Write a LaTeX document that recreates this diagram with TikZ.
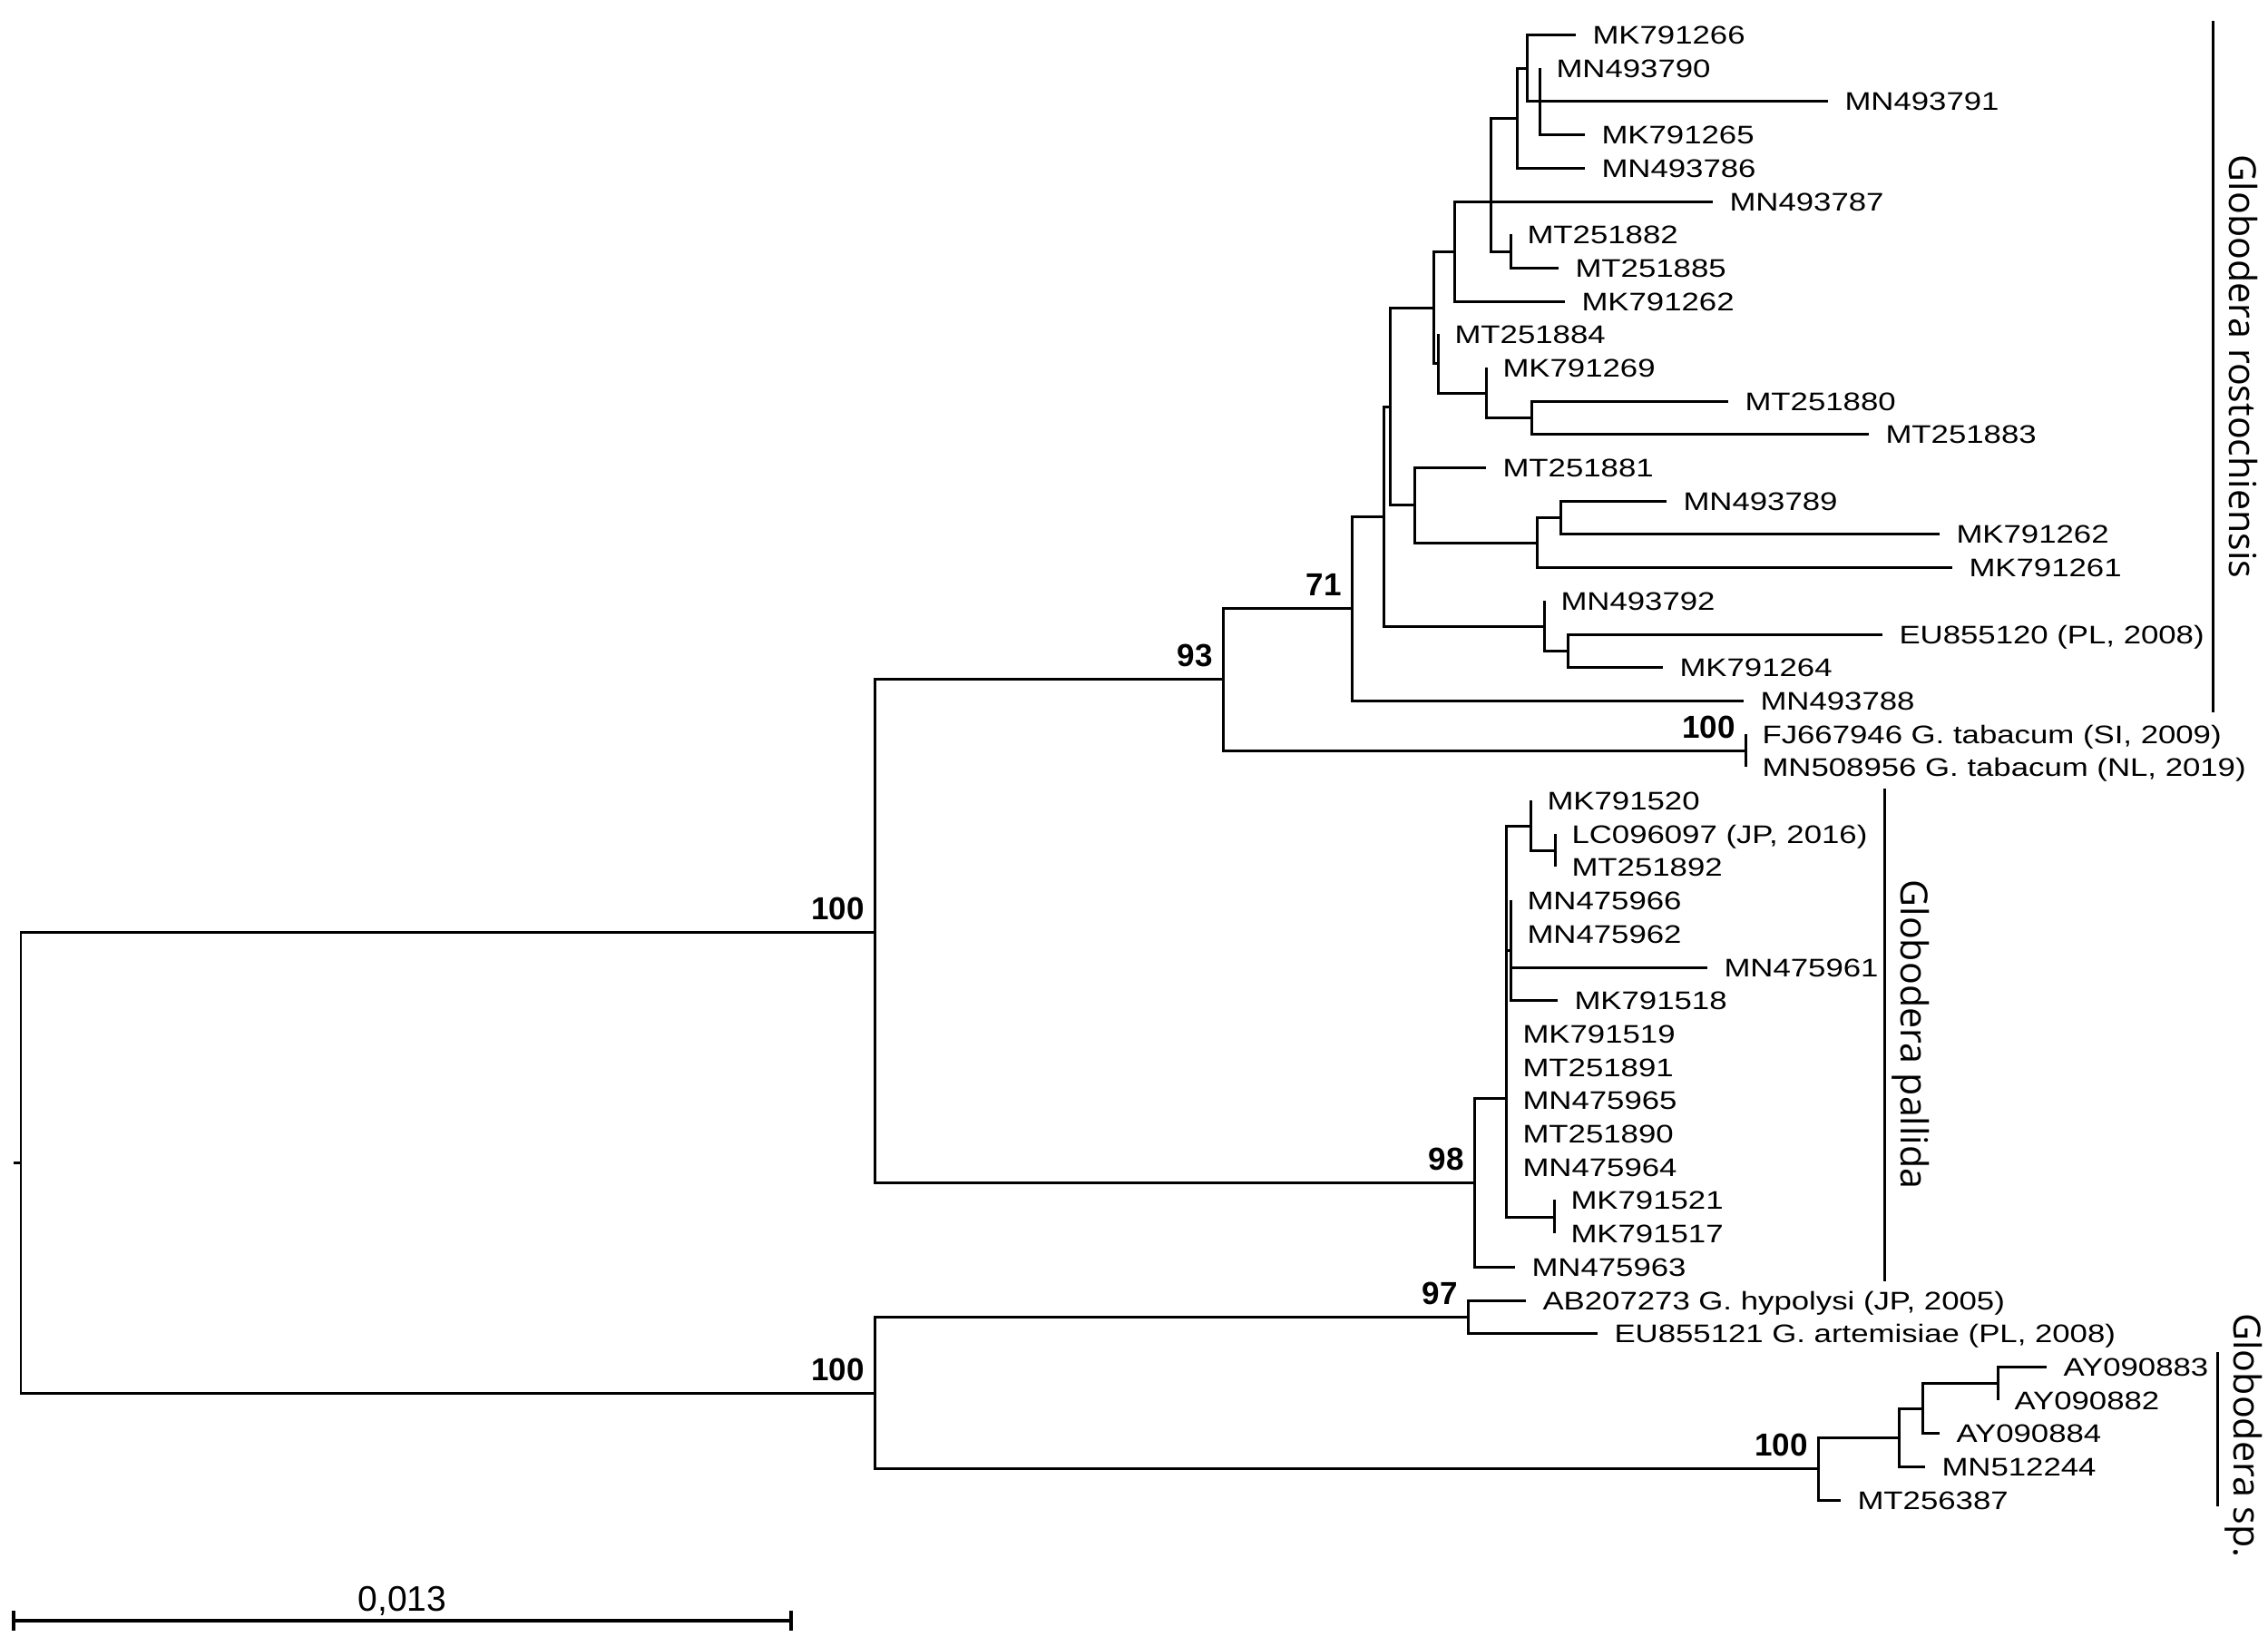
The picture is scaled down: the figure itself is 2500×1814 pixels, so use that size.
\documentclass[tikz,border=0pt]{standalone}
\usepackage{fontspec}
\setmainfont{Liberation Sans}
\newfontfamily\leaffont[FakeStretch=1.24]{Liberation Sans}
\newfontfamily\cladefont{Open Sans}
\usetikzlibrary{arrows.meta}

\begin{document}
\begin{tikzpicture}[x=0.01cm, y=-0.01cm, line width=0.85pt,
  leaf/.style={anchor=west, inner sep=0pt, inner xsep=0.17cm, text height=5.7pt, text depth=0pt,
    font=\leaffont\fontsize{7.97pt}{9pt}\selectfont},
  boot/.style={anchor=south east, inner sep=0pt, xshift=-0.1cm, yshift=0.12cm,
    font=\bfseries\fontsize{9.96pt}{12pt}\selectfont},
  clade/.style={rotate=-90, anchor=base, inner sep=0pt,
    font=\cladefont\fontsize{11.7pt}{14pt}\selectfont},
  scalelab/.style={midway, anchor=south, inner sep=0pt, yshift=0.09cm, text depth=0pt,
    font=\fontsize{11.1pt}{13pt}\selectfont}]
\useasboundingbox (0,0) rectangle (2500,1814);

\coordinate (stem) at (15,1281);
\coordinate (n0) at (23,1281);
\coordinate (nA) at (964,1027);
\coordinate (nB) at (1348,748);
\coordinate (nC) at (1490,670);
\coordinate (nQ) at (1525,569);
\coordinate (nK) at (1532,448);
\coordinate (nL) at (1580,339);
\coordinate (nJ) at (1603,277);
\coordinate (nH) at (1643,222);
\coordinate (nE) at (1672,130);
\coordinate (nF) at (1683,75);
\coordinate (nG) at (1697,111);
\coordinate (nI) at (1665,277);
\coordinate (nM) at (1585,400);
\coordinate (nN) at (1638,433);
\coordinate (nO) at (1688,460);
\coordinate (nP) at (1559,556);
\coordinate (nS) at (1694,598);
\coordinate (nT) at (1720,570);
\coordinate (nR) at (1702,690);
\coordinate (nU) at (1728,717);
\coordinate (nV) at (1924,827);
\coordinate (nW) at (1625,1303);
\coordinate (nX) at (1660,1210);
\coordinate (nY) at (1687,910);
\coordinate (nAB) at (1714,937);
\coordinate (nZ) at (1665,1047);
\coordinate (nAA) at (1713,1341);
\coordinate (nAD) at (964,1535);
\coordinate (nAC) at (1618,1451);
\coordinate (nAE) at (2004,1618);
\coordinate (nAF) at (2093,1584);
\coordinate (nAG) at (2119,1552);
\coordinate (nAH) at (2202,1524);

\node[leaf] (MK791266) at (1737,38) {MK791266};
\node[leaf] (MN493790) at (1697,75) {MN493790};
\node[leaf] (MN493791) at (2015,111) {MN493791};
\node[leaf] (MK791265) at (1747,148) {MK791265};
\node[leaf] (MN493786) at (1747,185) {MN493786};
\node[leaf] (MN493787) at (1888,222) {MN493787};
\node[leaf] (MT251882) at (1665,258) {MT251882};
\node[leaf] (MT251885) at (1718,295) {MT251885};
\node[leaf] (MK791262) at (1725,332) {MK791262};
\node[leaf] (MT251884) at (1585,368) {MT251884};
\node[leaf] (MK791269) at (1638,405) {MK791269};
\node[leaf] (MT251880) at (1905,442) {MT251880};
\node[leaf] (MT251883) at (2060,478) {MT251883};
\node[leaf] (MT251881) at (1638,515) {MT251881};
\node[leaf] (MN493789) at (1837,552) {MN493789};
\node[leaf] (MK791262b) at (2138,588) {MK791262};
\node[leaf] (MK791261) at (2152,625) {MK791261};
\node[leaf] (MN493792) at (1702,662) {MN493792};
\node[leaf] (EU855120) at (2075,699) {EU855120 (PL, 2008)};
\node[leaf] (MK791264) at (1833,735) {MK791264};
\node[leaf] (MN493788) at (1922,772) {MN493788};
\node[leaf] (FJ667946) at (1924,809) {FJ667946 G. tabacum (SI, 2009)};
\node[leaf] (MN508956) at (1924,845) {MN508956 G. tabacum (NL, 2019)};
\node[leaf] (MK791520) at (1687,882) {MK791520};
\node[leaf] (LC096097) at (1714,919) {LC096097 (JP, 2016)};
\node[leaf] (MT251892) at (1714,955) {MT251892};
\node[leaf] (MN475966) at (1665,992) {MN475966};
\node[leaf] (MN475962) at (1665,1029) {MN475962};
\node[leaf] (MN475961) at (1882,1066) {MN475961};
\node[leaf] (MK791518) at (1717,1102) {MK791518};
\node[leaf] (MK791519) at (1660,1139) {MK791519};
\node[leaf] (MT251891) at (1660,1176) {MT251891};
\node[leaf] (MN475965) at (1660,1212) {MN475965};
\node[leaf] (MT251890) at (1660,1249) {MT251890};
\node[leaf] (MN475964) at (1660,1286) {MN475964};
\node[leaf] (MK791521) at (1713,1322) {MK791521};
\node[leaf] (MK791517) at (1713,1359) {MK791517};
\node[leaf] (MN475963) at (1670,1396) {MN475963};
\node[leaf] (AB207273) at (1682,1433) {AB207273 G. hypolysi (JP, 2005)};
\node[leaf] (EU855121) at (1761,1469) {EU855121 G. artemisiae (PL, 2008)};
\node[leaf] (AY090883) at (2256,1506) {AY090883};
\node[leaf] (AY090882) at (2202,1543) {AY090882};
\node[leaf] (AY090884) at (2138,1579) {AY090884};
\node[leaf] (MN512244) at (2122,1616) {MN512244};
\node[leaf] (MT256387) at (2029,1653) {MT256387};

\draw (stem) -- (n0);
\draw (n0) |- (nA) (n0) |- (nAD);
\draw (nA) |- (nB) (nA) |- (nW);
\draw (nB) |- (nC) (nB) |- (nV);
\draw (nC) |- (nQ) (nC) |- (MN493788.west);
\draw (nQ) |- (nK) (nQ) |- (nR);
\draw (nK) |- (nL) (nK) |- (nP);
\draw (nL) |- (nJ) (nL) |- (nM);
\draw (nJ) |- (nH) (nJ) |- (MK791262.west);
\draw (nH) |- (nE) (nH) |- (MN493787.west) (nH) |- (nI);
\draw (nE) |- (nF) (nE) |- (MN493786.west);
\draw (nF) |- (MK791266.west) (nF) |- (nG);
\draw (nG) |- (MN493790.west) (nG) |- (MN493791.west) (nG) |- (MK791265.west);
\draw (nI) |- (MT251882.west) (nI) |- (MT251885.west);
\draw (nM) |- (MT251884.west) (nM) |- (nN);
\draw (nN) |- (MK791269.west) (nN) |- (nO);
\draw (nO) |- (MT251880.west) (nO) |- (MT251883.west);
\draw (nP) |- (MT251881.west) (nP) |- (nS);
\draw (nS) |- (nT) (nS) |- (MK791261.west);
\draw (nT) |- (MN493789.west) (nT) |- (MK791262b.west);
\draw (nR) |- (MN493792.west) (nR) |- (nU);
\draw (nU) |- (EU855120.west) (nU) |- (MK791264.west);
\draw (nV) |- (FJ667946.west) (nV) |- (MN508956.west);
\draw (nW) |- (nX) (nW) |- (MN475963.west);
\draw (nX) |- (nY) (nX) |- (nZ) (nX) |- (nAA);
\draw (nX) |- (MK791519.west) (nX) |- (MT251891.west) (nX) |- (MN475965.west)
      (nX) |- (MT251890.west) (nX) |- (MN475964.west);
\draw (nY) |- (MK791520.west) (nY) |- (nAB);
\draw (nAB) |- (LC096097.west) (nAB) |- (MT251892.west);
\draw (nZ) |- (MN475966.west) (nZ) |- (MN475962.west) (nZ) |- (MN475961.west)
      (nZ) |- (MK791518.west);
\draw (nAA) |- (MK791521.west) (nAA) |- (MK791517.west);
\draw (nAD) |- (nAC) (nAD) |- (nAE);
\draw (nAC) |- (AB207273.west) (nAC) |- (EU855121.west);
\draw (nAE) |- (nAF) (nAE) |- (MT256387.west);
\draw (nAF) |- (nAG) (nAF) |- (MN512244.west);
\draw (nAG) |- (nAH) (nAG) |- (AY090884.west);
\draw (nAH) |- (AY090883.west) (nAH) |- (AY090882.west);

\node[boot] (bA) at (nA) {100};
\node[boot] (bB) at (nB) {93};
\node[boot] (bC) at (nC) {71};
\node[boot] (bV) at (nV) {100};
\node[boot] (bW) at (nW) {98};
\node[boot] (bAD) at (nAD) {100};
\node[boot] (bAC) at (nAC) {97};
\node[boot] (bAE) at (nAE) {100};

\coordinate (rostTop) at (2439,23);
\coordinate (rostBot) at (2439,785);
\draw (rostTop) -- (rostBot);
\node[clade] (rost) at (2457,404) {Globodera rostochiensis};
\coordinate (pallTop) at (2077,869);
\coordinate (pallBot) at (2077,1412);
\draw (pallTop) -- (pallBot);
\node[clade] (pall) at (2095,1140) {Globodera pallida};
\coordinate (spTop) at (2444,1490);
\coordinate (spBot) at (2444,1660);
\draw (spTop) -- (spBot);
\node[clade] (sp) at (2462,1582) {Globodera sp.};

\coordinate (bar0) at (13,1786);
\coordinate (bar1) at (874,1786);
\draw[{Bar[width=0.22cm]}-{Bar[width=0.22cm]}, line width=1.1pt] (bar0) -- node[scalelab] (barlab) {0,013} (bar1);
\end{tikzpicture}
\end{document}
